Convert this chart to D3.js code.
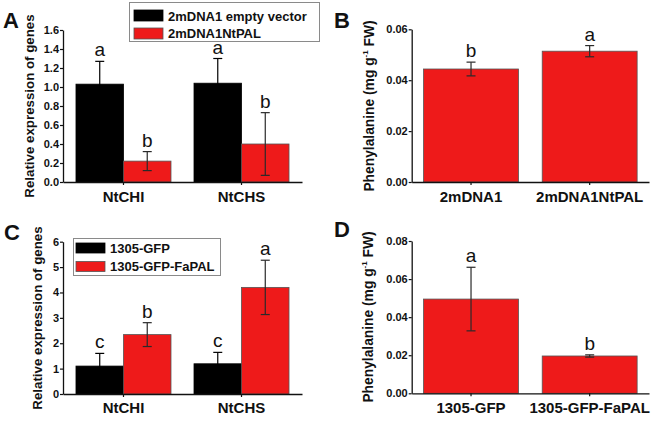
<!DOCTYPE html>
<html><head><meta charset="utf-8">
<script src="https://cdn.jsdelivr.net/npm/d3@7"></script>
<style>
html,body{margin:0;padding:0;background:#fff;}
svg{display:block;font-family:"Liberation Sans",Arial,sans-serif;}
</style></head>
<body>
<svg id="chart" width="662" height="423"></svg>
<script>
// ---- Data ----
const genes = ["NtCHI", "NtCHS"];
const seriesA = ["2mDNA1 empty vector", "2mDNA1NtPAL"];
const aVector = [1.03, 1.04];
const aVectorErr = [0.24, 0.26];
const aPal = [0.22, 0.40];
const aPalErr = [0.10, 0.33];
const aLetters = [["a", "b"], ["a", "b"]];
const aTicks = [0, 0.2, 0.4, 0.6, 0.8, 1.0, 1.2, 1.4, 1.6];

const bCats = ["2mDNA1", "2mDNA1NtPAL"];
const bValues = [0.0444, 0.0514];
const bErr = [0.0027, 0.0022];
const bLetters = ["b", "a"];
const bTicks = [0, 0.02, 0.04, 0.06];

const seriesC = ["1305-GFP", "1305-GFP-FaPAL"];
const cGfp = [1.10, 1.19];
const cGfpErr = [0.50, 0.45];
const cFapal = [2.34, 4.20];
const cFapalErr = [0.47, 1.07];
const cLetters = [["c", "b"], ["c", "a"]];
const cTicks = [0, 1, 2, 3, 4, 5, 6];

const dCats = ["1305-GFP", "1305-GFP-FaPAL"];
const dValues = [0.0495, 0.0196];
const dErr = [0.0167, 0.0006];
const dLetters = ["a", "b"];
const dTicks = [0, 0.02, 0.04, 0.06, 0.08];

// ---- Styles ----
const RED = "#ee1a1a";
const BLACK = "#000";
const svg = d3.select("#chart");

function yAxis(g, y, x0, ticks, fmt) {
  const ax = g.append("g").attr("transform", `translate(${x0},0)`)
    .call(d3.axisLeft(y).tickValues(ticks).tickFormat(d3.format(fmt)).tickSize(3).tickSizeOuter(0).tickPadding(1));
  ax.select(".domain").attr("stroke", "#111").attr("stroke-width", 1.3);
  ax.selectAll(".tick line").attr("stroke", "#111").attr("stroke-width", 1.2);
  ax.selectAll(".tick text").attr("font-size", 11).attr("font-weight", "bold").attr("fill", "#111");
}
function xAxis(g, x, y0) {
  const ax = g.append("g").attr("transform", `translate(0,${y0})`)
    .call(d3.axisBottom(x).tickSize(3).tickSizeOuter(0).tickPadding(0).tickFormat(() => ""));
  ax.select(".domain").attr("stroke", "#111").attr("stroke-width", 1.3);
  ax.selectAll(".tick line").attr("stroke", "#111").attr("stroke-width", 1.2);
}
function catLabels(g, x, cats, yb) {
  g.selectAll(null).data(cats).enter().append("text")
    .attr("x", d => x(d) + x.bandwidth() / 2).attr("y", yb)
    .attr("text-anchor", "middle").attr("font-size", 15).attr("font-weight", "bold")
    .attr("fill", "#111").text(d => d);
}
function errBar(g, cx, y, v, e, color) {
  const cw = 4.5;
  g.append("line").attr("x1", cx).attr("x2", cx).attr("y1", y(v + e)).attr("y2", y(Math.max(0, v - e)))
    .attr("stroke", color).attr("stroke-width", 1.2);
  [v + e, Math.max(0, v - e)].forEach(t => {
    g.append("line").attr("x1", cx - cw).attr("x2", cx + cw).attr("y1", y(t)).attr("y2", y(t))
      .attr("stroke", color).attr("stroke-width", 1.2);
  });
}
function sigLetter(g, cx, yTop, txt) {
  g.append("text").attr("x", cx).attr("y", yTop - 5).attr("text-anchor", "middle")
    .attr("font-size", 19).attr("fill", "#111").text(txt);
}
function panelLetter(x, y, t) {
  svg.append("text").attr("x", x).attr("y", y).attr("font-size", 22).attr("font-weight", "bold")
    .attr("fill", "#111").text(t);
}
function yLabelGene(x, cy) {
  svg.append("text").attr("transform", `translate(${x},${cy}) rotate(-90)`)
    .attr("text-anchor", "middle").attr("font-size", 13.3).attr("font-weight", "bold").attr("fill", "#111")
    .text("Relative expression of genes");
}
function yLabelPhe(x, cy) {
  const t = svg.append("text").attr("transform", `translate(${x},${cy}) rotate(-90)`)
    .attr("text-anchor", "middle").attr("font-size", 13.8).attr("font-weight", "bold").attr("fill", "#111");
  t.append("tspan").text("Phenylalanine (mg g");
  t.append("tspan").attr("font-size", 8).attr("dy", -6).text("-1");
  t.append("tspan").attr("dy", 6).text(" FW)");
}

// ---- Grouped panel (A / C) ----
function grouped(opts) {
  const g = svg.append("g");
  const x = d3.scaleBand().domain(genes).range([63, 302]).paddingInner(0.195).paddingOuter(0.11);
  const xs = d3.scaleBand().domain([0, 1]).range([0, x.bandwidth()]);
  const y = d3.scaleLinear().domain(opts.domain).range(opts.yRange);
  const sets = [{v: opts.s0, e: opts.e0, c: BLACK}, {v: opts.s1, e: opts.e1, c: RED}];
  sets.forEach((s, si) => {
    genes.forEach((gn, gi) => {
      const bx = x(gn) + xs(si);
      g.append("rect").attr("x", bx).attr("y", y(s.v[gi])).attr("width", xs.bandwidth())
        .attr("height", y(0) - y(s.v[gi])).attr("fill", s.c)
        .attr("stroke", si ? "#555" : "#000").attr("stroke-width", 0.8);
    });
  });
  // legend (drawn before letters so letters sit on top)
  const L = opts.legend;
  g.append("rect").attr("x", L.x).attr("y", L.y).attr("width", L.w).attr("height", L.h)
    .attr("fill", "#fff").attr("stroke", "#8a8a8a").attr("stroke-width", 1);
  opts.series.forEach((name, i) => {
    g.append("rect").attr("x", L.sx).attr("y", L.sy[i]).attr("width", L.sw).attr("height", L.sh)
      .attr("fill", i ? RED : BLACK).attr("stroke", i ? "#555" : "#000").attr("stroke-width", 0.8);
    g.append("text").attr("x", L.tx).attr("y", L.ty[i]).attr("font-size", 13).attr("font-weight", "bold")
      .attr("fill", "#111").text(name);
  });
  sets.forEach((s, si) => {
    genes.forEach((gn, gi) => {
      const cx = x(gn) + xs(si) + xs.bandwidth() / 2;
      errBar(g, cx, y, s.v[gi], s.e[gi], si ? "#2a2a2a" : "#000");
      sigLetter(g, cx, y(s.v[gi] + s.e[gi]), opts.letters[gi][si]);
    });
  });
  yAxis(g, y, 63, opts.ticks, opts.fmt);
  xAxis(g, x, opts.yRange[0]);
  catLabels(g, x, genes, opts.labY);
}

// ---- Simple panel (B / D) ----
function simple(opts) {
  const g = svg.append("g");
  const x = d3.scaleBand().domain(opts.cats).range([411.7, 649]).paddingInner(0.2).paddingOuter(0.1);
  const y = d3.scaleLinear().domain(opts.domain).range(opts.yRange);
  opts.cats.forEach((c, i) => {
    g.append("rect").attr("x", x(c)).attr("y", y(opts.values[i])).attr("width", x.bandwidth())
      .attr("height", y(0) - y(opts.values[i])).attr("fill", RED).attr("stroke", "#555").attr("stroke-width", 0.8);
  });
  opts.cats.forEach((c, i) => {
    const cx = x(c) + x.bandwidth() / 2;
    errBar(g, cx, y, opts.values[i], opts.err[i], "#2a2a2a");
    sigLetter(g, cx, y(opts.values[i] + opts.err[i]), opts.letters[i]);
  });
  yAxis(g, y, 411.7, opts.ticks, ".2f");
  xAxis(g, x, opts.yRange[0]);
  catLabels(g, x, opts.cats, opts.labY);
}

grouped({
  domain: [0, 1.6], yRange: [182, 30], ticks: aTicks, fmt: ".1f",
  s0: aVector, e0: aVectorErr, s1: aPal, e1: aPalErr, letters: aLetters, labY: 201.7,
  series: seriesA,
  legend: {x: 129.5, y: 2.5, w: 190, h: 39, sx: 134, sy: [10, 28], sw: 29, sh: 11, tx: 168, ty: [20.7, 38.3]}
});
simple({
  cats: bCats, values: bValues, err: bErr, letters: bLetters, domain: [0, 0.06], yRange: [182, 29.3],
  ticks: bTicks, labY: 201.7
});
grouped({
  domain: [0, 6], yRange: [394, 241.7], ticks: cTicks, fmt: "d",
  s0: cGfp, e0: cGfpErr, s1: cFapal, e1: cFapalErr, letters: cLetters, labY: 413.3,
  series: seriesC,
  legend: {x: 73.5, y: 238.5, w: 147, h: 37, sx: 76, sy: [243, 261.5], sw: 29, sh: 10, tx: 110, ty: [252.7, 271]}
});
simple({
  cats: dCats, values: dValues, err: dErr, letters: dLetters, domain: [0, 0.08], yRange: [393.3, 241],
  ticks: dTicks, labY: 413.3
});

panelLetter(3, 28, "A");
panelLetter(334, 28, "B");
panelLetter(4, 240, "C");
panelLetter(334, 237, "D");
yLabelGene(34, 106);
yLabelPhe(374, 106);
yLabelGene(42, 318);
yLabelPhe(373, 317);
</script>
</body></html>
